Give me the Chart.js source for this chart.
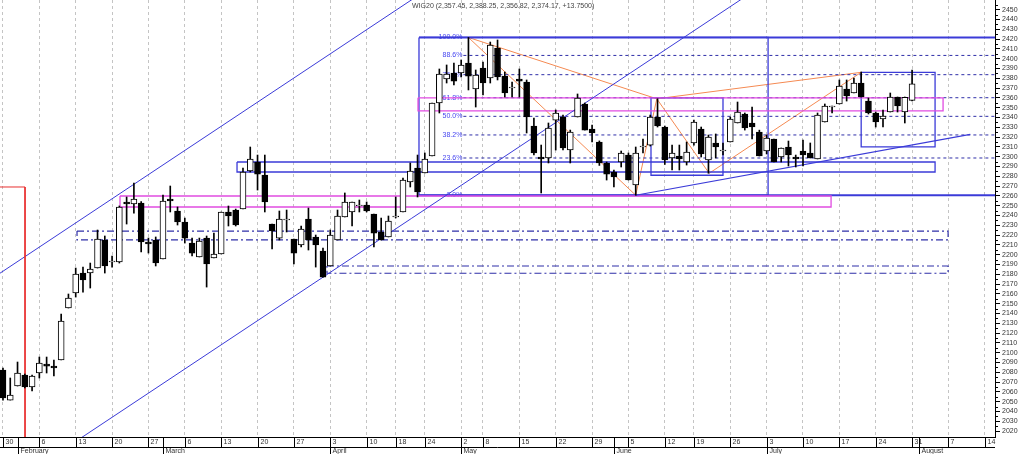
<!DOCTYPE html>
<html><head><meta charset="utf-8">
<script src="https://cdn.jsdelivr.net/npm/chart.js@4.4.1/dist/chart.umd.min.js"></script>
<style>html,body{margin:0;padding:0;background:#fff;overflow:hidden}#wrap{width:1024px;height:454px;position:relative}</style>
</head><body><div id="wrap"><canvas id="c" width="1024" height="454"></canvas></div>
<script>
// ---- DATA ----
const opens  = [2082.2,2051.6,2065.9,2077.1,2064.9,2079.2,2088.4,2086.3,2092.5,2145.5,2160.8,2181.2,2181.2,2186.3,2214.9,2192.5,2192.5,2253.7,2251.6,2252.7,2212.9,2214.9,2195.5,2256.7,2244.5,2233.3,2211.8,2197.6,2216.9,2196.5,2200.6,2243.5,2245.5,2246.5,2285.3,2294.5,2281.2,2231.2,2216.9,2235.3,2215.9,2209.8,2236.3,2218.0,2203.7,2188.4,2214.9,2238.4,2243.5,2249.6,2250.6,2241.4,2223.1,2218.0,2238.4,2243.5,2274.1,2288.4,2283.3,2300.6,2354.7,2379.2,2385.3,2385.3,2395.5,2369.0,2390.4,2380.2,2410.8,2382.2,2370.0,2379.2,2376.1,2331.2,2299.6,2298.6,2337.3,2340.4,2306.7,2340.4,2353.7,2328.2,2314.9,2293.5,2284.3,2294.5,2301.6,2271.0,2309.8,2311.8,2340.4,2330.2,2298.6,2300.6,2294.5,2313.9,2328.2,2296.5,2313.9,2305.7,2314.9,2334.3,2343.5,2334.3,2325.1,2305.7,2318.0,2299.6,2309.8,2299.6,2305.7,2303.7,2297.6,2335.3,2350.6,2353.7,2369.0,2364.9,2375.1,2356.7,2344.5,2338.4,2345.5,2360.8,2345.5,2357.45];
const highs  = [2084.3,2074.1,2090.4,2078.2,2077.1,2095.5,2095.5,2092.5,2139.4,2159.8,2186.3,2187.3,2191.4,2225.1,2219.0,2198.6,2249.6,2258.8,2273.1,2254.0,2216.9,2218.0,2260.8,2270.0,2248.6,2237.3,2216.9,2216.9,2219.0,2222.0,2243.5,2249.6,2246.5,2288.4,2309.8,2301.6,2301.6,2231.2,2244.5,2245.5,2215.9,2229.2,2247.5,2220.0,2206.7,2225.1,2245.5,2262.9,2253.7,2255.7,2253.7,2241.4,2237.3,2239.4,2258.8,2278.2,2293.5,2301.6,2303.7,2354.7,2389.4,2393.5,2395.5,2398.6,2421.6,2388.4,2396.5,2416.9,2419.0,2386.3,2376.1,2389.4,2378.2,2339.4,2311.8,2334.3,2347.6,2342.4,2327.1,2363.9,2354.7,2332.2,2316.0,2294.5,2286.3,2305.7,2303.7,2309.8,2318.0,2342.4,2359.0,2331.2,2311.8,2311.8,2314.9,2337.3,2330.2,2322.0,2323.1,2313.9,2340.4,2355.7,2344.5,2350.6,2327.0,2322.0,2318.0,2308.8,2315.9,2301.6,2316.9,2313.9,2344.5,2353.7,2351.6,2378.2,2378.2,2380.2,2386.3,2359.8,2345.5,2347.6,2364.9,2360.8,2360.8,2388.25];
const lows   = [2051.6,2051.6,2065.9,2063.9,2060.8,2074.1,2079.2,2076.1,2092.5,2145.5,2156.7,2161.8,2165.9,2186.3,2181.2,2187.3,2191.4,2231.2,2242.4,2202.7,2201.6,2188.4,2195.5,2243.5,2230.2,2211.8,2198.6,2197.6,2166.9,2196.5,2200.6,2229.2,2229.2,2246.5,2284.3,2265.9,2243.5,2205.7,2214.9,2223.1,2190.4,2207.8,2204.7,2187.3,2177.1,2188.4,2214.9,2238.4,2229.2,2243.5,2243.5,2207.8,2214.9,2218.0,2237.4,2243.5,2269.0,2258.8,2283.3,2300.6,2344.5,2375.1,2373.1,2381.2,2368.0,2350.6,2362.9,2375.1,2378.2,2360.8,2360.8,2360.8,2324.1,2301.6,2262.9,2293.5,2306.7,2306.7,2293.5,2340.4,2327.1,2314.9,2291.0,2276.1,2269.0,2289.4,2276.1,2260.6,2303.7,2310.8,2330.2,2292.0,2286.3,2286.3,2291.4,2311.8,2299.6,2283.0,2298.6,2301.6,2314.9,2334.3,2327.1,2318.0,2300.6,2302.7,2294.5,2294.5,2290.4,2289.4,2290.4,2298.6,2297.6,2335.3,2344.5,2353.7,2356.7,2364.9,2360.8,2343.5,2330.2,2330.2,2345.5,2345.5,2334.3,2356.82];
const closes = [2053.7,2056.7,2079.2,2064.9,2076.1,2089.4,2086.3,2084.3,2132.3,2155.7,2180.2,2174.1,2185.3,2215.9,2188.4,2193.5,2248.6,2251.6,2256.7,2212.9,2210.8,2191.4,2254.7,2254.7,2233.3,2216.9,2201.6,2213.9,2190.4,2200.6,2243.5,2239.4,2230.2,2284.3,2297.6,2282.2,2253.7,2224.1,2236.3,2235.3,2201.6,2226.1,2214.9,2209.8,2177.1,2220.0,2239.4,2253.7,2253.7,2249.6,2244.5,2222.0,2214.9,2234.3,2238.4,2276.1,2285.3,2263.9,2297.6,2354.7,2384.3,2384.3,2377.1,2393.5,2382.2,2383.3,2375.1,2413.9,2381.2,2364.9,2370.0,2377.1,2340.4,2303.7,2297.6,2329.2,2344.5,2308.8,2325.1,2359.8,2327.1,2324.1,2293.5,2282.2,2279.2,2303.7,2276.1,2303.7,2309.8,2340.4,2331.2,2296.5,2303.7,2297.6,2304.7,2335.3,2302.7,2320.0,2309.8,2305.7,2338.4,2345.5,2329.2,2330.2,2300.6,2319.0,2294.5,2308.8,2301.6,2297.6,2301.6,2298.6,2342.4,2351.6,2350.6,2372.0,2361.8,2375.1,2360.8,2344.5,2335.3,2341.4,2360.8,2351.6,2360.42,2374.17];

const weekTickIdx    = [0,5,10,15,20,25,30,35,40,45,50,54,58,63,66,71,76,81,86,91,95,100,105,110,115,120,125,130,135];
const weekTickLabels = ['30','6','13','20','27','6','13','20','27','3','10','18','24','2','8','15','22','29','5','12','19','26','3','10','17','24','31','7','14'];
const monthTickIdx    = [2,22,45,63,84,105,126];
const monthTickLabels = ['February','March','April','May','June','July','August'];
const yTickValues = [2020,2030,2040,2050,2060,2070,2080,2090,2100,2110,2120,2130,2140,2150,2160,2170,2180,2190,2200,2210,2220,2230,2240,2250,2260,2270,2280,2290,2300,2310,2320,2330,2340,2350,2360,2370,2380,2390,2400,2410,2420,2430,2440,2450];
const titleText = 'WIG20 (2,357.45, 2,388.25, 2,356.82, 2,374.17, +13.7500)';

// drawing objects (in data coordinates: [dayIndex, value])
const redMarker      = [[-2,2269],[3.03,2269],[3.03,1990]];
const channelUpper   = [[-2,2173.2],[60,2478.8]];
const channelLower   = [[5,1984.7],[105,2477.7]];
const supportLine    = [[87,2260.6],[133,2322.7]];
const bandA          = [[10.18,2224],[129.95,2224],[129.95,2215],[10.18,2215],[10.18,2224]];
const bandB          = [[44.55,2188.4],[129.95,2188.4],[129.95,2181],[44.55,2181],[44.55,2188.4]];
const magentaRect    = [[16.09,2259.8],[113.86,2259.8],[113.86,2248.6],[16.09,2248.6],[16.09,2259.8]];
const magentaBand    = [[57.07,2360],[129.26,2360],[129.26,2346.7],[57.07,2346.7],[57.07,2360]];
const blueBand       = [[32.18,2294.5],[128.16,2294.5],[128.16,2284.3],[32.18,2284.3],[32.18,2294.5]];
const juneBox        = [[89.1,2360],[99.0,2360],[99.0,2281],[89.1,2281],[89.1,2360]];
const julyBox        = [[118.0,2386],[128.16,2386],[128.16,2310],[118.0,2310],[118.0,2386]];
const fibHigh = 2421.6, fibLow = 2260.6;
const fibRect        = [[57.2,fibHigh],[105.2,fibHigh],[105.2,fibLow],[57.2,fibLow],[57.2,fibHigh]];
const fibLevels      = [1.0,0.886,0.764,0.618,0.5,0.382,0.236,0.0];
const fibLabels      = ['100.0%','88.6%','76.4%','61.8%','50.0%','38.2%','23.6%','0.0%'];
const fibLabelIdx = 63.3, fibStartIdx = 57.2, fibEndIdx = 140;
const zigzagIdx = [64,87,89.9,97.1,118];
const zigzagVal = [2421.6,2260.6,2359,2283,2386];

// ---- BUILD ----
const dayIdx = opens.map((_,i)=>i);
const bodies = dayIdx.map(i=>({x:i,y:[opens[i],closes[i]]}));
const wicks  = dayIdx.map(i=>({x:i,y:[lows[i],highs[i]]}));

const BLUE='#3b3bd8', DBLUE='#2f2fa8', MAG='#e14ce1', ORANGE='#f58a52';
function ln(points,color,width,dash){
  return {type:'line',data:points.map(p=>({x:p[0],y:p[1]})),borderColor:color,borderWidth:width,
    borderDash:dash||[],pointRadius:0,pointHoverRadius:0,fill:false,tension:0,order:10};
}
const z = zigzagIdx.map((x,k)=>[x,zigzagVal[k]]);
const annDatasets = [
  ln(redMarker,'#e83030',1),
  ln(channelUpper,BLUE,1),
  ln(channelLower,BLUE,1),
  ln(supportLine,BLUE,1.2),
  ln(bandA,DBLUE,1.2,[7,3,2,3]),
  ln(bandB,DBLUE,1.2,[7,3,2,3]),
  ln(magentaRect,MAG,1.3),
  ln(magentaBand,MAG,1.3),
  ln(blueBand,BLUE,1.3),
  ln(juneBox,BLUE,1.3),
  ln(julyBox,BLUE,1.3),
  ln(fibRect,BLUE,1.3),
  ln([[fibStartIdx,fibHigh],[fibEndIdx,fibHigh]],BLUE,2),
  ln([[fibStartIdx,fibLow],[fibEndIdx,fibLow]],BLUE,2),
  ...fibLevels.filter(l=>l>0&&l<1).map(l=>ln([[fibLabelIdx,fibLow+(fibHigh-fibLow)*l],[fibEndIdx,fibLow+(fibHigh-fibLow)*l]],DBLUE,1,[3,3])),
  ln([z[0],z[1],z[2],z[3],z[4]],ORANGE,1),
  ln([z[0],z[2],z[4]],ORANGE,1)
];

const FONT='"Liberation Sans", Arial, sans-serif';
const overlay = {
  id:'overlay',
  beforeDatasetsDraw(chart){
    const ctx=chart.ctx, xs=chart.scales.x, ys=chart.scales.y;
    ctx.save();
    ctx.font='7px '+FONT; ctx.fillStyle='#4646f0'; ctx.textAlign='right'; ctx.textBaseline='middle';
    fibLevels.forEach((l,k)=>{
      ctx.fillText(fibLabels[k], xs.getPixelForValue(fibLabelIdx)-1, ys.getPixelForValue(fibLow+(fibHigh-fibLow)*l));
    });
    ctx.restore();
  },
  afterDraw(chart){
    const ctx=chart.ctx, xs=chart.scales.x, ys=chart.scales.y, a=chart.chartArea;
    ctx.save();
    ctx.strokeStyle='#000'; ctx.lineWidth=1; ctx.fillStyle='#333';
    ctx.font='7px '+FONT; ctx.textBaseline='middle'; ctx.textAlign='left';
    const y0=a.bottom, y1=a.bottom+10;
    ctx.beginPath(); ctx.moveTo(a.left,y1+0.5); ctx.lineTo(a.right,y1+0.5); ctx.stroke();
    weekTickIdx.forEach((v,k)=>{
      const px=Math.round(xs.getPixelForValue(v))+0.5;
      ctx.beginPath(); ctx.moveTo(px,y0); ctx.lineTo(px,y1); ctx.stroke();
      ctx.fillText(weekTickLabels[k],px+2,y0+5.5);
    });
    monthTickIdx.forEach((v,k)=>{
      const px=Math.round(xs.getPixelForValue(v))+0.5;
      ctx.beginPath(); ctx.moveTo(px,y0); ctx.lineTo(px,chart.height); ctx.stroke();
      ctx.fillText(monthTickLabels[k],px+2,y1+4.5);
    });
    // minor y ticks
    yTickValues.forEach(v=>{
      const py=Math.round(ys.getPixelForValue(v+5))+0.5;
      if(py>a.top&&py<a.bottom){ctx.beginPath(); ctx.moveTo(a.right,py); ctx.lineTo(a.right+3,py); ctx.stroke();}
    });
    ctx.fillStyle='#444'; ctx.font='7px '+FONT; ctx.textAlign='left';
    ctx.fillText(titleText, a.left+412, a.top+6);
    ctx.restore();
  }
};

new Chart(document.getElementById('c'),{
  type:'bar',
  data:{datasets:[
    {type:'bar',data:bodies,grouped:false,barThickness:6,minBarLength:1,borderWidth:1,borderSkipped:false,
      borderColor:'#000',backgroundColor:ctx=>{const i=ctx.dataIndex;return closes[i]<opens[i]?'#000':'#fff';},order:1},
    {type:'bar',data:wicks,grouped:false,barThickness:1,borderWidth:0,backgroundColor:'#000',order:2},
    ...annDatasets
  ]},
  options:{
    responsive:false,animation:false,events:[],
    layout:{padding:0},
    plugins:{legend:{display:false},tooltip:{enabled:false},title:{display:false}},
    scales:{
      x:{type:'linear',position:'bottom',min:-0.41,max:136.4,offset:false,
        afterBuildTicks:s=>{s.ticks=weekTickIdx.map(v=>({value:v}));},
        afterFit:s=>{s.height=17;s.paddingLeft=0;s.paddingRight=0;},
        ticks:{display:false},
        grid:{display:true,drawOnChartArea:true,drawTicks:false,offset:false,color:'#c4c4c4',lineWidth:1},
        border:{display:true,color:'#000',width:1,dash:[3,3]}
      },
      y:{type:'linear',position:'right',min:2013.9,max:2459.8,
        afterBuildTicks:s=>{s.ticks=yTickValues.map(v=>({value:v}));},
        afterFit:s=>{s.width=29;s.paddingTop=0;s.paddingBottom=0;},
        ticks:{autoSkip:false,padding:2,color:'#333',font:{size:7,family:FONT},callback:v=>String(v)},
        grid:{drawOnChartArea:false,drawTicks:true,tickLength:5,tickColor:'#000'},
        border:{display:true,color:'#000',width:1}
      }
    }
  },
  plugins:[overlay]
});
</script>
</body></html>
